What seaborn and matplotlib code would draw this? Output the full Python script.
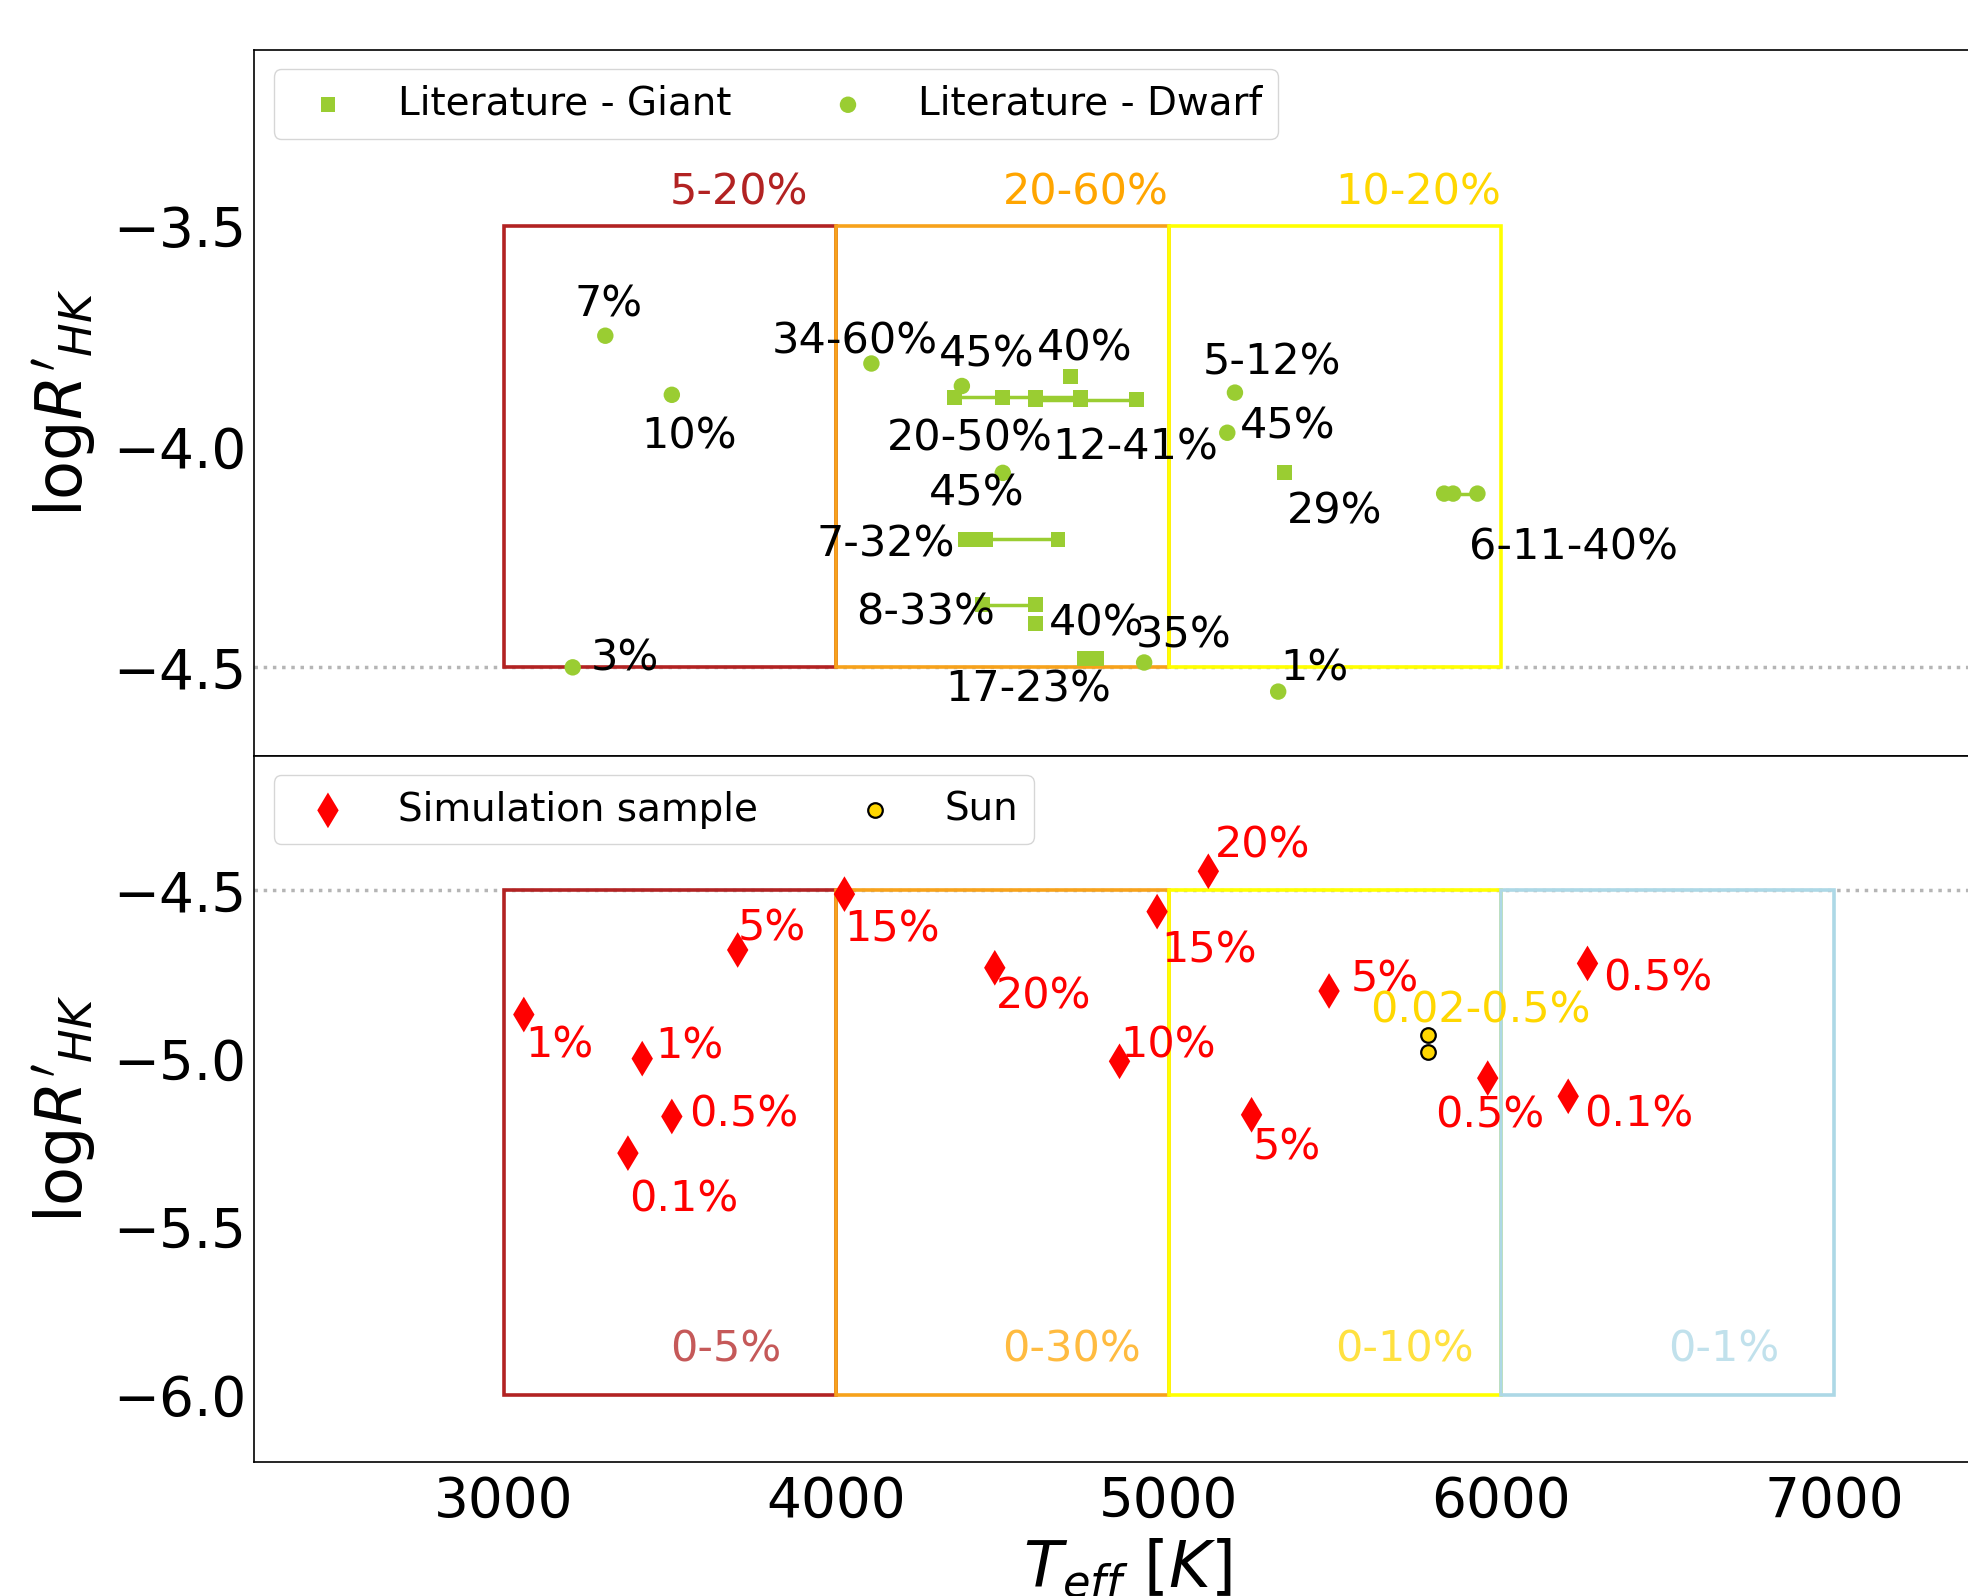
import matplotlib
matplotlib.use("Agg")
import matplotlib.pyplot as plt
import numpy as np
import pandas as pd
import seaborn as sns
from matplotlib.patches import Rectangle

# ---------------- data ----------------
# Literature giants: one id per star, several Teff estimates for one star are joined by a line
giant_star = [0, 0, 0, 0, 1, 1, 1, 2, 3, 4, 4, 4, 4, 5, 5, 6, 7, 7]
giant_teff = [4355, 4500, 4600, 4735, 4600, 4735, 4902, 4704, 5349,
              4390, 4420, 4450, 4667, 4440, 4600, 4600, 4746, 4784]
giant_logr = [-3.888, -3.888, -3.888, -3.888, -3.893, -3.893, -3.893, -3.841, -4.059,
              -4.210, -4.210, -4.210, -4.210, -4.358, -4.358, -4.400, -4.479, -4.479]
giant_labels = ["20-50%", "12-41%", "40%", "29%", "7-32%", "8-33%", "40%", "17-23%"]

# Literature dwarfs
dwarf_star = [0, 1, 2, 3, 4, 5, 6, 7, 8, 8, 8, 9, 10]
dwarf_teff = [3306, 3506, 3208, 4106, 4378, 4501, 5199, 5176, 5828, 5855, 5928, 4926, 5329]
dwarf_logr = [-3.748, -3.882, -4.500, -3.811, -3.862, -4.059, -3.877, -3.968,
              -4.106, -4.106, -4.106, -4.489, -4.555]
dwarf_labels = ["7%", "10%", "3%", "34-60%", "45%", "45%", "5-12%", "45%", "6-11-40%", "35%", "1%"]

# Simulation sample
sim_teff = [3061, 3417, 3506, 3374, 3704, 4025, 4477, 4852, 5119, 4965, 5482, 5249, 5959, 6201, 6259]
sim_logr = [-4.870, -5.001, -5.173, -5.282, -4.678, -4.512, -4.731, -5.009, -4.444,
            -4.564, -4.800, -5.168, -5.059, -5.113, -4.718]
sim_labels = ["1%", "1%", "0.5%", "0.1%", "5%", "15%", "20%", "10%", "20%",
              "15%", "5%", "5%", "0.5%", "0.1%", "0.5%"]

# Sun
sun_teff = [5778, 5778]
sun_logr = [-4.932, -4.981]
sun_label = "0.02-0.5%"

# Teff regions
region_start = [3000, 4000, 5000, 6000]
region_end = [4000, 5000, 6000, 7000]
region_lit_labels = ["5-20%", "20-60%", "10-20%"]
region_sim_labels = ["0-5%", "0-30%", "0-10%", "0-1%"]

# ---------------- styles / positions ----------------
box_colors = ["firebrick", "#f7a21b", "yellow", "lightblue"]
label_colors = ["firebrick", "orange", "gold", "lightblue"]
green = "yellowgreen"

giant_offsets = [(-67, -53), (17, -60), (-33, 16), (2, -51), (-149, -17), (-126, -20), (13, -12), (-139, -43)]
dwarf_offsets = [(-31, 19), (-31, -54), (18, -3), (-100, 10), (-23, 19), (-74, -33), (-32, 18),
                 (13, -6), (25, -66), (-8, 15), (2, 11)]
sim_offsets = [(1, -43), (13, 0), (17, -10), (1, -58), (0, 9), (0, -47), (1, -41), (1, 4), (7, 14),
               (4, -51), (22, 0), (1, -45), (-53, -49), (16, -30), (16, -27)]
sun_offset = (-57, 13)

ANN_FS = 31
TICK_FS = 39.5
LAB_FS = 46
LEG_FS = 28

sns.set_style("white")
plt.rcParams["font.family"] = ["DejaVu Sans"]
plt.rcParams["mathtext.fontset"] = "dejavusans"
plt.rcParams["text.color"] = "black"
plt.rcParams["axes.labelcolor"] = "black"
plt.rcParams["xtick.color"] = "black"
plt.rcParams["ytick.color"] = "black"

fig = plt.figure(figsize=(19.68, 15.96), dpi=100)
ax1 = fig.add_axes([0.1291, 0.5266, 0.8873, 0.4421])
ax2 = fig.add_axes([0.1291, 0.0840, 0.8873, 0.4426])

giant_df = pd.DataFrame({"star": giant_star, "teff": giant_teff, "logr": giant_logr})
dwarf_df = pd.DataFrame({"star": dwarf_star, "teff": dwarf_teff, "logr": dwarf_logr})
sim_df = pd.DataFrame({"teff": sim_teff, "logr": sim_logr, "label": sim_labels})
sun_df = pd.DataFrame({"teff": sun_teff, "logr": sun_logr})

for ax in (ax1, ax2):
    ax.set_xlim(2250, 7500)
    ax.axhline(-4.5, color="#b5b5b5", ls=":", lw=2.5, zorder=0)
    for sp in ax.spines.values():
        sp.set_linewidth(1.2)
        sp.set_color("black")
    ax.tick_params(axis="both", direction="in", length=14, width=1.1,
                   labelsize=TICK_FS, top=False, right=False)
    ax.tick_params(axis="y", pad=5.5)
    ax.tick_params(axis="x", pad=9.5)

ax1.set_ylim(-4.7, -3.1)
ax2.set_ylim(-6.2, -4.1)
ax1.set_yticks([-3.5, -4.0, -4.5])
ax2.set_yticks([-4.5, -5.0, -5.5, -6.0])
ax2.set_xticks([3000, 4000, 5000, 6000, 7000])
ax1.tick_params(axis="x", bottom=False, labelbottom=False)

# ---- regions top panel ----
for i in range(3):
    ax1.add_patch(Rectangle((region_start[i], -4.5), region_end[i] - region_start[i], 1.0,
                            fill=False, edgecolor=box_colors[i], lw=2.6, zorder=1))
    ax1.text(region_start[i] + 500, -3.45, region_lit_labels[i], color=label_colors[i],
             fontsize=ANN_FS, ha="left", va="baseline")
# ---- regions bottom panel ----
for i in range(4):
    ax2.add_patch(Rectangle((region_start[i], -6.0), region_end[i] - region_start[i], 1.5,
                            fill=False, edgecolor=box_colors[i], lw=2.6, zorder=1))
    ax2.text(region_start[i] + 500, -5.9, region_sim_labels[i], color=label_colors[i],
             alpha=0.75, fontsize=ANN_FS, ha="left", va="baseline")

# ---- literature stars ----
sns.lineplot(data=giant_df, x="teff", y="logr", units="star", estimator=None, sort=False,
             color=green, lw=2.5, ax=ax1, legend=False, zorder=2)
sns.lineplot(data=dwarf_df, x="teff", y="logr", units="star", estimator=None, sort=False,
             color=green, lw=2.5, ax=ax1, legend=False, zorder=2)
sns.scatterplot(data=giant_df, x="teff", y="logr", marker="s", s=115, color=green,
                edgecolor="none", linewidth=0, ax=ax1, label="Literature - Giant", zorder=3)
sns.scatterplot(data=dwarf_df, x="teff", y="logr", marker="o", s=140, color=green,
                edgecolor="none", linewidth=0, ax=ax1, label="Literature - Dwarf", zorder=3)

first_g = giant_df.groupby("star").first()
for k, lab in enumerate(giant_labels):
    ax1.annotate(lab, (first_g.loc[k, "teff"], first_g.loc[k, "logr"]), xytext=giant_offsets[k],
                 textcoords="offset pixels", fontsize=ANN_FS, ha="left", va="baseline",
                 color="black", zorder=5)
first_d = dwarf_df.groupby("star").first()
for k, lab in enumerate(dwarf_labels):
    ax1.annotate(lab, (first_d.loc[k, "teff"], first_d.loc[k, "logr"]), xytext=dwarf_offsets[k],
                 textcoords="offset pixels", fontsize=ANN_FS, ha="left", va="baseline",
                 color="black", zorder=5)

# ---- simulation sample ----
sns.scatterplot(data=sim_df, x="teff", y="logr", marker="d", s=330, color="red",
                edgecolor="none", linewidth=0, ax=ax2, label="Simulation sample", zorder=3)
sns.scatterplot(data=sun_df, x="teff", y="logr", marker="o", s=110, color="gold",
                edgecolor="black", linewidth=1.6, ax=ax2, label="Sun", zorder=4)
for k, lab in enumerate(sim_labels):
    ax2.annotate(lab, (sim_teff[k], sim_logr[k]), xytext=sim_offsets[k],
                 textcoords="offset pixels", fontsize=ANN_FS, ha="left", va="baseline",
                 color="red", zorder=5)
ax2.annotate(sun_label, (sun_teff[0], sun_logr[0]), xytext=sun_offset, textcoords="offset pixels",
             fontsize=ANN_FS, ha="left", va="baseline", color="gold", zorder=5)

for ax in (ax1, ax2):
    ax.legend(loc="upper left", ncol=2, fontsize=LEG_FS, scatterpoints=1)
    ax.set_ylabel(r"log$R'_{HK}$", fontsize=LAB_FS, labelpad=11)
ax1.set_xlabel("")
ax2.set_xlabel(r"$T_{eff}\ [K]$", fontsize=LAB_FS, labelpad=5)

fig.savefig("out.png", dpi=100)
